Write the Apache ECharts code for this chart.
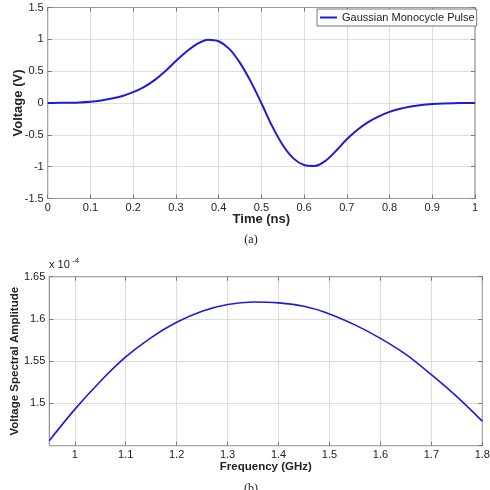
<!DOCTYPE html>
<html><head><meta charset="utf-8">
<script src="https://cdn.jsdelivr.net/npm/echarts@6/dist/echarts.min.js"></script>
<style>html,body{margin:0;padding:0;background:#fff}#c{width:490px;height:490px}</style>
</head><body><div id="c"></div>
<script>
// (a) Gaussian monocycle pulse, time in ns, voltage in V
const timeNs = [0,0.025,0.05,0.075,0.1,0.125,0.15,0.175,0.2,0.225,0.25,0.275,0.3,0.325,0.35,0.375,0.4,0.425,0.45,0.475,0.5,
  0.525,0.55,0.575,0.6,0.625,0.65,0.675,0.7,0.725,0.75,0.775,0.8,0.825,0.85,0.875,0.9,0.925,0.95,0.975,1];
const voltage = [0,0.002,0.004,0.009,0.02,0.04,0.07,0.11,0.17,0.25,0.36,0.5,0.66,0.81,0.93,0.995,0.97,0.85,0.63,0.34,0,
  -0.36,-0.66,-0.87,-0.975,-0.99,-0.91,-0.75,-0.57,-0.42,-0.3,-0.21,-0.14,-0.09,-0.055,-0.03,-0.015,-0.006,-0.002,-0.001,0];
// (b) voltage spectral amplitude (x 10^-4) vs frequency in GHz
const freqGHz = [0.95,1.0,1.05,1.1,1.15,1.2,1.25,1.3,1.35,1.4,1.45,1.5,1.55,1.6,1.65,1.7,1.75,1.8];
const spectral = [1.456,1.493,1.526,1.555,1.578,1.596,1.609,1.617,1.620,1.619,1.615,1.606,1.593,1.577,1.558,1.534,1.508,1.479];
const freqTicks = [1,1.1,1.2,1.3,1.4,1.5,1.6,1.7,1.8];
const legendName = 'Gaussian Monocycle Pulse';

const font = 'Liberation Sans, Arial, sans-serif';
const axisGray = '#777';
const lineBlue = '#1c1cd8';
const labelStyle = {fontSize:11, color:'#222', fontFamily:font};
const splitStyle = {show:true, lineStyle:{type:'dotted', color:'#bdbdbd', width:1}};
const tickStyle = {show:true, inside:true, length:4, lineStyle:{color:axisGray}};
const noLine = {show:false, onZero:false};
function sec(base, pos) {
  return Object.assign({}, base, {position:pos, name:'', axisLabel:{show:false}, splitLine:{show:false}, axisLine:noLine, axisTick:base.axisTick});
}

const xA = {gridIndex:0, type:'value', min:0, max:1, interval:0.1, axisLine:noLine, axisTick:tickStyle,
  axisLabel:Object.assign({margin:4}, labelStyle), splitLine:splitStyle,
  name:'Time (ns)', nameLocation:'middle', nameGap:14, nameMoveOverlap:false,
  nameTextStyle:{fontWeight:'bold', fontSize:13, color:'#222', fontFamily:font}};
const yA = {gridIndex:0, type:'value', min:-1.5, max:1.5, interval:0.5, axisLine:noLine, axisTick:tickStyle,
  axisLabel:Object.assign({margin:4}, labelStyle), splitLine:splitStyle,
  name:'Voltage (V)', nameLocation:'middle', nameGap:23, nameMoveOverlap:false,
  nameTextStyle:{fontWeight:'bold', fontSize:13, color:'#222', fontFamily:font}};
const xB = {gridIndex:1, type:'value', min:0.95, max:1.8, axisLine:noLine,
  axisTick:Object.assign({customValues:freqTicks}, tickStyle),
  axisLabel:Object.assign({margin:4, customValues:freqTicks}, labelStyle), splitLine:splitStyle,
  name:'Frequency (GHz)', nameLocation:'middle', nameGap:15.5, nameMoveOverlap:false,
  nameTextStyle:{fontWeight:'bold', fontSize:11.5, color:'#222', fontFamily:font}};
const yB = {gridIndex:1, type:'value', min:1.45, max:1.65, interval:0.05, axisLine:noLine, axisTick:tickStyle,
  axisLabel:Object.assign({margin:4, showMinLabel:false}, labelStyle), splitLine:splitStyle,
  name:'Voltage Spectral Amplitude', nameLocation:'middle', nameGap:28, nameMoveOverlap:false,
  nameTextStyle:{fontWeight:'bold', fontSize:11.5, color:'#222', fontFamily:font}};

const chart = echarts.init(document.getElementById('c'), null, {renderer:'canvas'});
chart.setOption({
  animation:false,
  backgroundColor:'#fff',
  grid:[
    {left:47.7, top:7.5, width:427.3, height:191, show:true, borderColor:axisGray, borderWidth:1, backgroundColor:'transparent', containLabel:false, outerBoundsMode:'none'},
    {left:49.3, top:276.7, width:433, height:169, show:true, borderColor:axisGray, borderWidth:1, backgroundColor:'transparent', containLabel:false, outerBoundsMode:'none'}
  ],
  xAxis:[xA, xB, sec(xA,'top'), sec(xB,'top')],
  yAxis:[yA, yB, sec(yA,'right'), sec(yB,'right')],
  legend:{data:[{name:legendName, icon:'rect'}], left:317, top:9, orient:'horizontal', itemWidth:17, itemHeight:2, padding:[3,2,3,3],
    borderColor:axisGray, borderWidth:1, backgroundColor:'#fff', borderRadius:0,
    textStyle:{fontSize:11, color:'#222', fontFamily:font}},
  series:[
    {name:legendName, type:'line', xAxisIndex:0, yAxisIndex:0, data:timeNs.map((t,i)=>[t, voltage[i]]),
      smooth:0.3, symbol:'none', showSymbol:false, lineStyle:{color:lineBlue, width:2}, itemStyle:{color:lineBlue}},
    {name:'Spectrum', type:'line', xAxisIndex:1, yAxisIndex:1, data:freqGHz.map((f,i)=>[f, spectral[i]]),
      smooth:0.3, symbol:'none', showSymbol:false, lineStyle:{color:lineBlue, width:1.6}, itemStyle:{color:lineBlue}}
  ],
  graphic:[
    {type:'text', x:49, y:265, style:{text:'x 10', font:'11px Liberation Sans', fill:'#222', align:'left', verticalAlign:'middle'}},
    {type:'text', x:72, y:261, style:{text:'-4', font:'8px Liberation Sans', fill:'#222', align:'left', verticalAlign:'middle'}},
    {type:'text', x:251, y:240, style:{text:'(a)', font:'12px Liberation Serif', fill:'#222', align:'center', verticalAlign:'middle'}},
    {type:'text', x:251, y:489, style:{text:'(b)', font:'12px Liberation Serif', fill:'#222', align:'center', verticalAlign:'middle'}}
  ]
});
</script>
</body></html>
